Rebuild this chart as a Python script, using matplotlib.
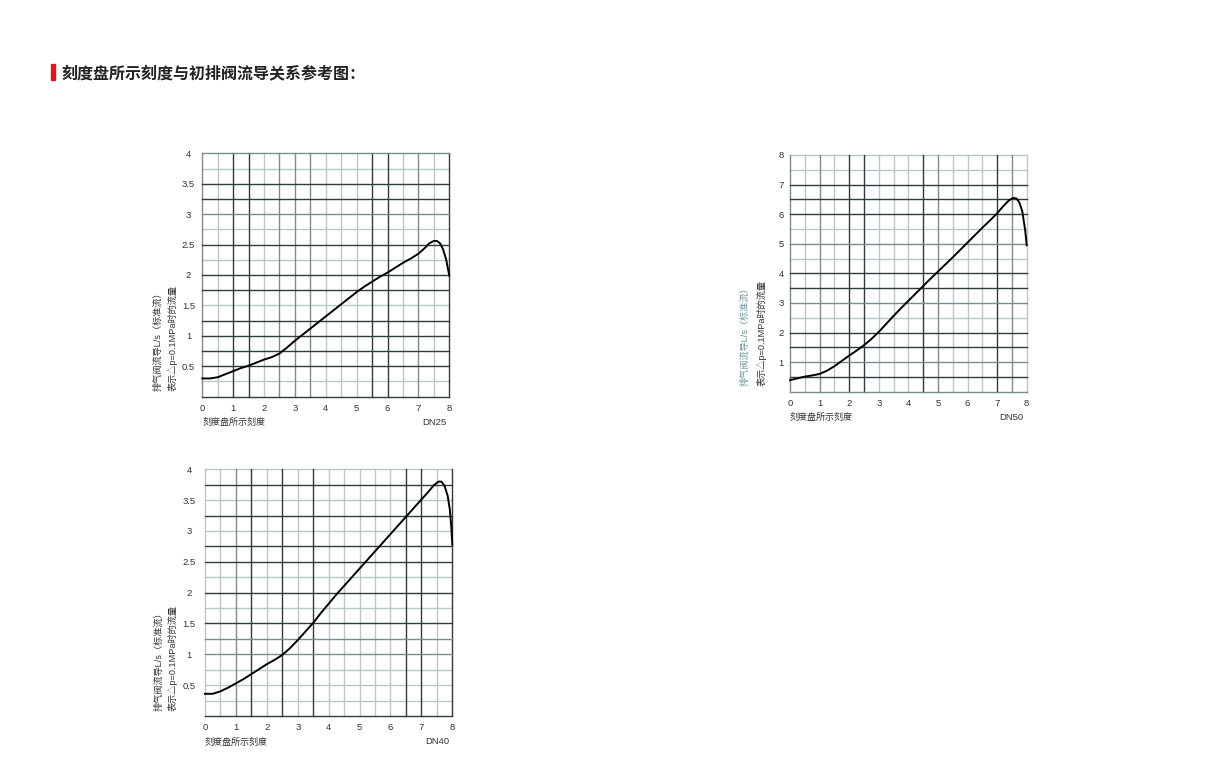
import matplotlib
matplotlib.use("Agg")
import matplotlib.pyplot as plt
from matplotlib.patches import Rectangle

plt.rcParams['font.family'] = ['Liberation Sans', 'Noto Sans CJK SC', 'DejaVu Sans']

# data
title = "刻度盘所示刻度与初排阀流导关系参考图："
xlabel = "刻度盘所示刻度"
ylabel_1 = "排气阀流导L/s（标准流）"
ylabel_2 = "表示△p=0.1MPa时的流量"

dn25_x = [0, 0.25, 0.5, 0.75, 1.0, 1.25, 1.5, 1.75, 2.0, 2.25, 2.5, 2.75, 3.0, 3.25,
          3.5, 3.75, 4.0, 4.25, 4.5, 4.75, 5.0, 5.25, 5.5, 5.75, 6.0, 6.25, 6.5, 6.75,
          7.0, 7.2, 7.35, 7.5, 7.6, 7.7, 7.8, 7.9, 8.0]
dn25_y = [0.30, 0.30, 0.32, 0.37, 0.42, 0.47, 0.51, 0.56, 0.61, 0.65, 0.71, 0.81, 0.92, 1.02,
          1.12, 1.22, 1.32, 1.42, 1.52, 1.62, 1.72, 1.81, 1.89, 1.97, 2.04, 2.12, 2.20, 2.27,
          2.35, 2.44, 2.52, 2.56, 2.56, 2.52, 2.42, 2.25, 1.99]

dn50_x = [0, 0.25, 0.5, 0.75, 1.0, 1.25, 1.5, 1.75, 2.0, 2.25, 2.5, 2.75, 3.0, 3.25,
          3.5, 3.75, 4.0, 4.25, 4.5, 4.75, 5.0, 5.25, 5.5, 5.75, 6.0, 6.25, 6.5, 6.75,
          7.0, 7.2, 7.4, 7.55, 7.65, 7.75, 7.85, 7.95, 8.0]
dn50_y = [0.39, 0.45, 0.51, 0.55, 0.60, 0.71, 0.86, 1.04, 1.22, 1.39, 1.57, 1.78, 2.02, 2.29,
          2.56, 2.82, 3.07, 3.32, 3.57, 3.82, 4.06, 4.30, 4.54, 4.79, 5.04, 5.29, 5.54, 5.78,
          6.03, 6.26, 6.47, 6.55, 6.53, 6.40, 6.10, 5.45, 4.95]

dn40_x = [0, 0.25, 0.5, 0.75, 1.0, 1.25, 1.5, 1.75, 2.0, 2.25, 2.5, 2.75, 3.0, 3.25,
          3.5, 3.75, 4.0, 4.25, 4.5, 4.75, 5.0, 5.25, 5.5, 5.75, 6.0, 6.25, 6.5, 6.75,
          7.0, 7.2, 7.4, 7.55, 7.65, 7.75, 7.85, 7.92, 7.97, 8.0]
dn40_y = [0.36, 0.36, 0.40, 0.46, 0.53, 0.60, 0.68, 0.76, 0.84, 0.91, 0.99, 1.10, 1.23, 1.37,
          1.51, 1.67, 1.82, 1.97, 2.11, 2.25, 2.39, 2.53, 2.67, 2.81, 2.95, 3.09, 3.23, 3.37,
          3.51, 3.62, 3.74, 3.80, 3.80, 3.73, 3.57, 3.35, 3.05, 2.78]

x_ticks = [0, 1, 2, 3, 4, 5, 6, 7, 8]
yticks_4 = [0.5, 1, 1.5, 2, 2.5, 3, 3.5, 4]
yticks_8 = [1, 2, 3, 4, 5, 6, 7, 8]

W, H = 1208, 769
DARK, MID, LIGHT = '#2e3c41', '#7b8b90', '#b9c7cb'
TXT = '#333333'


def fx(px):
    return px / W


def fy(py):
    return 1 - py / H


def draw_chart(box, xs, ys, ymax, ystep, yticks, ylab, grid, ypad, lab_x, lab_y, name,
               ylab1_color=TXT):
    left, top, right, bottom = box
    ax = fig.add_axes([fx(left), fy(bottom), fx(right) - fx(left), fy(top) - fy(bottom)])
    for s in ax.spines.values():
        s.set_visible(False)
    ax.set_xlim(0, 8)
    ax.set_ylim(0, ymax)

    # grid: every 0.5 in x, every ystep in y, shade per line
    v = 0.0
    while v <= 8.001:
        c = DARK if v in grid['vd'] else (MID if v in grid['vm'] else LIGHT)
        ax.axvline(v, color=c, lw=1.0, zorder=1 if c == LIGHT else 2, clip_on=False)
        v += 0.5
    v = 0.0
    while v <= ymax + 0.001:
        c = DARK if v in grid['hd'] else (MID if v in grid['hm'] else LIGHT)
        ax.axhline(v, color=c, lw=1.0, zorder=1 if c == LIGHT else 2, clip_on=False)
        v += ystep

    ax.plot(xs, ys, color='black', lw=1.4, zorder=5, clip_on=False)

    ax.set_xticks(x_ticks)
    ax.set_yticks(yticks)
    ax.set_yticklabels([('%g' % t) for t in yticks])
    ax.tick_params(axis='both', length=0, labelsize=6.8, colors=TXT)
    ax.tick_params(axis='x', pad=5)
    ax.tick_params(axis='y', pad=ypad)
    for lbl in ax.get_yticklabels():
        lbl.set_ha('center')

    # y label (two rotated lines)
    fig.text(fx(lab_x[0]), fy(lab_y), ylab[0], rotation=90, ha='center', va='bottom',
             fontsize=6.6, color=ylab1_color)
    fig.text(fx(lab_x[1]), fy(lab_y), ylab[1], rotation=90, ha='center', va='bottom',
             fontsize=6.6, color=TXT)
    # x label and model name
    fig.text(fx(left), fy(bottom + 26), xlabel, ha='left', va='center', fontsize=6.5, color=TXT)
    fig.text(fx(right - 3), fy(bottom + 26), name, ha='right', va='center', fontsize=6.8, color=TXT)
    return ax


fig = plt.figure(figsize=(W / 100, H / 100), dpi=100)

# title with red marker
fig.patches.append(Rectangle((fx(51), fy(80)), fx(3.5), fy(64) - fy(80),
                             transform=fig.transFigure, color='#e0161b'))
fig.text(fx(61), fy(73), title, ha='left', va='center', fontsize=11.5, fontweight='bold',
         color='#222222', family=['Noto Sans CJK SC', 'DejaVu Sans'])

grid25 = {'vd': [1, 1.5, 5.5, 6, 8], 'vm': [0, 2.5, 3, 3.5, 7],
          'hd': [0, 0.5, 0.75, 1.0, 1.25, 1.75, 2.0, 2.5, 3.25, 3.5], 'hm': [3.0, 4.0]}
grid50 = {'vd': [2, 2.5, 4.5, 7], 'vm': [0, 1, 5, 7.5],
          'hd': [0.5, 1.5, 2, 3.5, 4, 6, 6.5, 7], 'hm': [0, 1, 3, 5]}
grid40 = {'vd': [1.5, 2.5, 3.5, 6.5, 7, 8], 'vm': [1],
          'hd': [0, 1.5, 2.0, 2.5, 2.75, 3.25, 3.75], 'hm': [1.25, 1.0]}

draw_chart((202.3, 153.3, 449.3, 396.7), dn25_x, dn25_y, 4, 0.25, yticks_4,
           (ylabel_1, ylabel_2), grid25, 10, (158, 173), 391, "DN25")
draw_chart((790, 155, 1026.7, 391.7), dn50_x, dn50_y, 8, 0.5, yticks_8,
           (ylabel_1, ylabel_2), grid50, 6.5, (745, 762), 386, "DN50", ylab1_color='#6b959b')
draw_chart((205, 469.3, 452.3, 716), dn40_x, dn40_y, 4, 0.25, yticks_4,
           (ylabel_1, ylabel_2), grid40, 11.5, (159, 173), 711, "DN40")

fig.savefig("out.png", dpi=100)
